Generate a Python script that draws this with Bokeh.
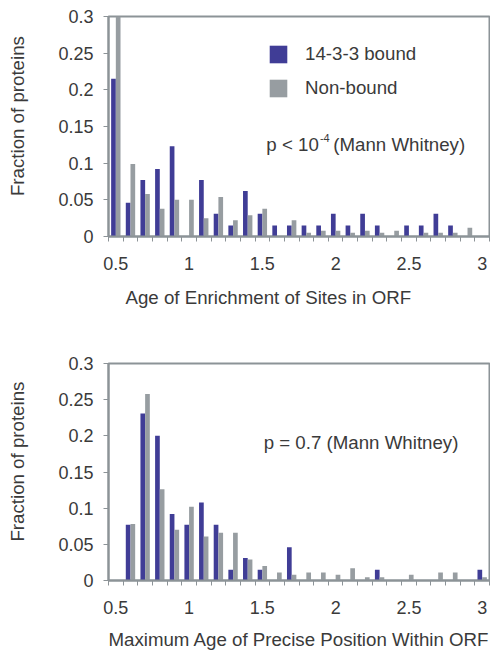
from bokeh.plotting import figure
from bokeh.models import (ColumnDataSource, FixedTicker, NumeralTickFormatter, Legend,
                          LegendItem, Label, Range1d, Title)
from bokeh.layouts import column
from bokeh.transform import dodge
from bokeh.embed import file_html
from bokeh.resources import INLINE

# ---------------- data ----------------
age_bins = [0.5, 0.6, 0.7, 0.8, 0.9, 1.0, 1.1, 1.2, 1.3, 1.4, 1.5, 1.6, 1.7,
            1.8, 1.9, 2.0, 2.1, 2.2, 2.3, 2.4, 2.5, 2.6, 2.7, 2.8, 2.9, 3.0]
bin_edges = [0.45, 0.55, 0.65, 0.75, 0.85, 0.95, 1.05, 1.15, 1.25, 1.35, 1.45, 1.55, 1.65, 1.75,
             1.85, 1.95, 2.05, 2.15, 2.25, 2.35, 2.45, 2.55, 2.65, 2.75, 2.85, 2.95, 3.05]
x_tick_values = [0.5, 1.0, 1.5, 2.0, 2.5, 3.0]
y_tick_values = [0, 0.05, 0.1, 0.15, 0.2, 0.25, 0.3]

# panel 1: Age of Enrichment of Sites in ORF
enrich_bound = [0.215, 0.046, 0.077, 0.092, 0.123, 0.0, 0.077, 0.031, 0.015, 0.062, 0.031, 0.015, 0.015,
                0.015, 0.015, 0.031, 0.015, 0.031, 0.015, 0.0, 0.015, 0.015, 0.031, 0.015, 0.0, 0.0]
enrich_nonbound = [0.300, 0.099, 0.058, 0.038, 0.050, 0.050, 0.025, 0.054, 0.022, 0.029, 0.038, 0.0, 0.022,
                   0.005, 0.008, 0.008, 0.005, 0.008, 0.005, 0.008, 0.0, 0.005, 0.005, 0.005, 0.012, 0.0]

# panel 2: Maximum Age of Precise Position Within ORF
precise_bound = [0.0, 0.077, 0.231, 0.200, 0.092, 0.077, 0.108, 0.077, 0.015, 0.031, 0.015, 0.0, 0.046,
                 0.0, 0.0, 0.0, 0.0, 0.0, 0.015, 0.0, 0.0, 0.0, 0.0, 0.0, 0.0, 0.015]
precise_nonbound = [0.0, 0.078, 0.258, 0.126, 0.070, 0.102, 0.061, 0.066, 0.066, 0.029, 0.020, 0.011, 0.008,
                    0.011, 0.011, 0.008, 0.017, 0.0045, 0.0045, 0.0, 0.008, 0.0, 0.011, 0.011, 0.0, 0.0045]

series_names = ["14-3-3 bound", "Non-bound"]
x_titles = ["Age of Enrichment of Sites in ORF", "Maximum Age of Precise Position Within ORF"]
y_title = "Fraction of proteins"

# ---------------- style ----------------
BLUE = "#403d96"
GREY = "#979da1"
AXIS = "#8c9397"
TEXT = "#3a3a3a"
FONT = "Liberation Sans"
FS_TICK = "18px"
FS = "18.7px"
NBSP = "\u00a0"


def make_panel(bound, nonbound, height, b_top, b_bottom):
    p = figure(width=490, height=height, x_range=Range1d(0.45, 3.05), y_range=Range1d(0, 0.3),
               output_backend="svg", toolbar_location=None,
               min_border_left=108, min_border_right=1,
               min_border_top=b_top, min_border_bottom=b_bottom)
    p.background_fill_color = "white"
    p.border_fill_color = "white"
    p.outline_line_color = AXIS
    p.outline_line_width = 2
    p.xgrid.visible = False
    p.ygrid.visible = False

    src = ColumnDataSource(dict(x=age_bins, bound=bound, nonbound=nonbound))
    rb = p.vbar(x=dodge("x", -0.016, range=p.x_range), top="bound", width=0.032, bottom=0,
                source=src, fill_color=BLUE, line_color=None)
    rg = p.vbar(x=dodge("x", 0.016, range=p.x_range), top="nonbound", width=0.032, bottom=0,
                source=src, fill_color=GREY, line_color=None)

    xa = p.xaxis[0]
    xa.ticker = FixedTicker(ticks=x_tick_values, minor_ticks=bin_edges)
    xa.formatter = NumeralTickFormatter(format="0.[0]")
    xa.major_tick_out = 0
    xa.major_tick_in = 0
    xa.minor_tick_out = 5
    xa.minor_tick_in = 0
    xa.minor_tick_line_color = AXIS
    xa.axis_line_color = AXIS
    xa.axis_line_width = 2
    xa.major_label_standoff = 15
    xa.major_label_text_font = FONT
    xa.major_label_text_font_size = FS_TICK
    xa.major_label_text_color = TEXT

    ya = p.yaxis[0]
    ya.ticker = FixedTicker(ticks=y_tick_values, minor_ticks=[])
    ya.formatter = NumeralTickFormatter(format="0.[00]")
    ya.major_tick_out = 5
    ya.major_tick_in = 0
    ya.minor_tick_out = 0
    ya.minor_tick_in = 0
    ya.major_tick_line_color = AXIS
    ya.axis_line_color = AXIS
    ya.axis_line_width = 2
    ya.major_label_standoff = 10
    ya.major_label_text_font = FONT
    ya.major_label_text_font_size = FS_TICK
    ya.major_label_text_color = TEXT
    # leading no-break spaces lift the centred title slightly, as in the original
    ya.axis_label = NBSP * 4 + y_title
    ya.axis_label_standoff = 27
    ya.axis_label_text_font = FONT
    ya.axis_label_text_font_size = FS
    ya.axis_label_text_font_style = "normal"
    ya.axis_label_text_color = TEXT
    return p, rb, rg


# top panel: x title as a left-aligned Title below the axis
p1, rb1, rg1 = make_panel(enrich_bound, enrich_nonbound, 319, 16, 82)
p1.add_layout(Title(text=x_titles[0], align="left", offset=17, standoff=24,
                    text_font=FONT, text_font_size=FS, text_font_style="normal",
                    text_color=TEXT), "below")

# bottom panel: x title as the axis label (centred)
p2, rb2, rg2 = make_panel(precise_bound, precise_nonbound, 333, 44, 70)
xa2 = p2.xaxis[0]
xa2.axis_label = x_titles[1]
xa2.axis_label_standoff = 12
xa2.axis_label_text_font = FONT
xa2.axis_label_text_font_size = FS
xa2.axis_label_text_font_style = "normal"
xa2.axis_label_text_color = TEXT

legend = Legend(items=[LegendItem(label=series_names[0], renderers=[rb1]),
                       LegendItem(label=series_names[1], renderers=[rg1])],
                location=(159, 137.5), orientation="vertical",
                glyph_width=22, glyph_height=22, label_height=22, label_standoff=16,
                spacing=12, padding=0, margin=0,
                border_line_alpha=0, background_fill_alpha=0,
                label_text_font=FONT, label_text_font_size=FS, label_text_color=TEXT)
p1.add_layout(legend)

lab_kw = dict(text_font=FONT, text_color=TEXT, text_baseline="alphabetic", text_align="left")
p1.add_layout(Label(x=1.527, y=0.126, text="p < 10", text_font_size=FS, **lab_kw))
p1.add_layout(Label(x=1.893, y=0.1345, text="-4", text_font_size="11px", **lab_kw))
p1.add_layout(Label(x=1.984, y=0.126, text="(Mann Whitney)", text_font_size=FS, **lab_kw))
p2.add_layout(Label(x=1.509, y=0.1905, text="p = 0.7 (Mann Whitney)", text_font_size=FS, **lab_kw))

layout = column(p1, p2, spacing=0)
open("out.html", "w").write(file_html(layout, INLINE))
